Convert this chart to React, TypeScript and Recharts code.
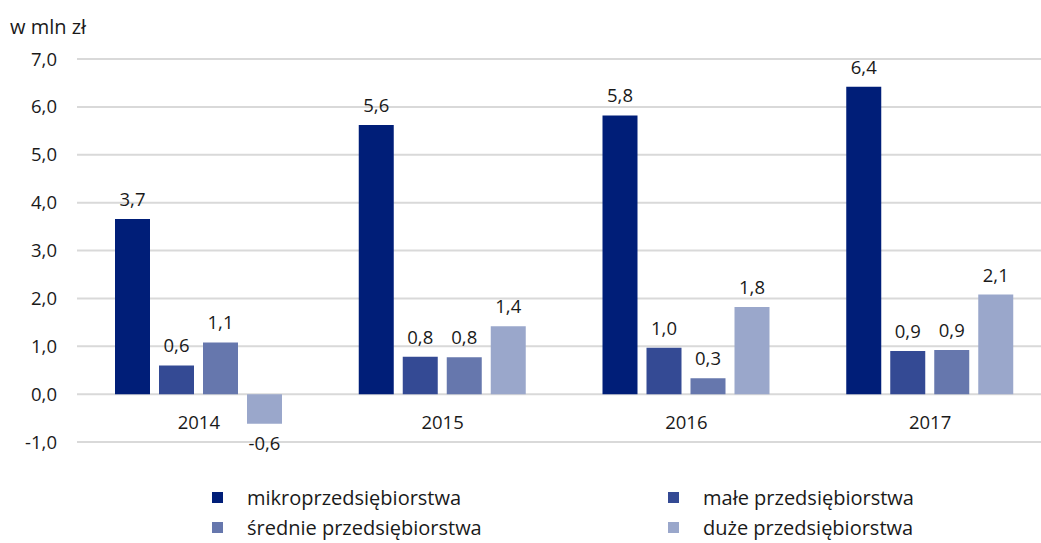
import { BarChart, Bar, XAxis, YAxis, CartesianGrid, LabelList, Legend } from "recharts";

const years = ["2014", "2015", "2016", "2017"];
const mikro = [3.66, 5.62, 5.82, 6.42];
const male = [0.6, 0.78, 0.97, 0.9];
const srednie = [1.08, 0.77, 0.33, 0.92];
const duze = [-0.62, 1.42, 1.82, 2.08];
const yTicks = [-1, 0, 1, 2, 3, 4, 5, 6, 7];

const series = [
    { key: "mikro", name: "mikroprzedsiębiorstwa", color: "#001e78" },
    { key: "male", name: "małe przedsiębiorstwa", color: "#344a94" },
    { key: "srednie", name: "średnie przedsiębiorstwa", color: "#6677ad" },
    { key: "duze", name: "duże przedsiębiorstwa", color: "#9aa7cb" },
];

const data = years.map((year, i) => ({
    year,
    mikro: mikro[i],
    male: male[i],
    srednie: srednie[i],
    duze: duze[i],
}));

const FONT = "'Open Sans', sans-serif";
const fmt = (v: any) => Number(v).toFixed(1).replace(".", ",");

// legend order in the picture: mikro, małe / średnie, duże
const LegendBox = () => (
    <div
        style={{
            display: "grid",
            gridTemplateColumns: "456px 456px",
            paddingLeft: 212,
            fontFamily: FONT,
            fontSize: 20,
            color: "#1a1a1a",
        }}
    >
        {series.map((s) => (
            <div key={s.key} style={{ display: "flex", alignItems: "center", height: 30 }}>
                <span style={{ width: 11, height: 11, background: s.color, marginRight: 24 }} />
                <span>{s.name}</span>
            </div>
        ))}
    </div>
);

const YearTick = ({ x, y, payload }: any) => (
    <text x={x} y={y - 21} textAnchor="middle" dominantBaseline="central" fill="#1a1a1a" fontSize={18.5} fontFamily={FONT}>
        {payload.value}
    </text>
);

export default function App() {
    return (
        <div style={{ position: "absolute", left: 0, top: 0, width: 1041, height: 543, background: "#fff", overflow: "hidden" }}>
            <div style={{ position: "absolute", left: 10, top: 13, fontFamily: FONT, fontSize: 20, color: "#1a1a1a" }}>w mln zł</div>
            <BarChart
                width={1041}
                height={543}
                data={data}
                margin={{ top: 59, right: -11, left: 0, bottom: 71 }}
                barGap={9}
                barCategoryGap={38}
            >
                <CartesianGrid vertical={false} stroke="#d9d9d9" strokeWidth={2} />
                <XAxis dataKey="year" height={30} axisLine={false} tickLine={false} tickSize={0} tickMargin={0} tick={<YearTick />} />
                <YAxis
                    width={77}
                    domain={[-1, 7]}
                    ticks={yTicks}
                    axisLine={false}
                    tickLine={false}
                    tickSize={0}
                    tickMargin={20}
                    tickFormatter={fmt}
                    tick={{ fill: "#1a1a1a", fontSize: 18.5, fontFamily: FONT }}
                />
                <Legend
                    layout="vertical"
                    align="center"
                    verticalAlign="middle"
                    content={<LegendBox />}
                    wrapperStyle={{ top: 482, left: 0, width: 1041 }}
                />
                {series.map((s) => (
                    <Bar key={s.key} dataKey={s.key} name={s.name} fill={s.color} isAnimationActive={false}>
                        <LabelList
                            dataKey={s.key}
                            position="top"
                            offset={13}
                            formatter={fmt}
                            fill="#1a1a1a"
                            fontSize={18.5}
                            fontFamily={FONT}
                        />
                    </Bar>
                ))}
            </BarChart>
        </div>
    );
}
